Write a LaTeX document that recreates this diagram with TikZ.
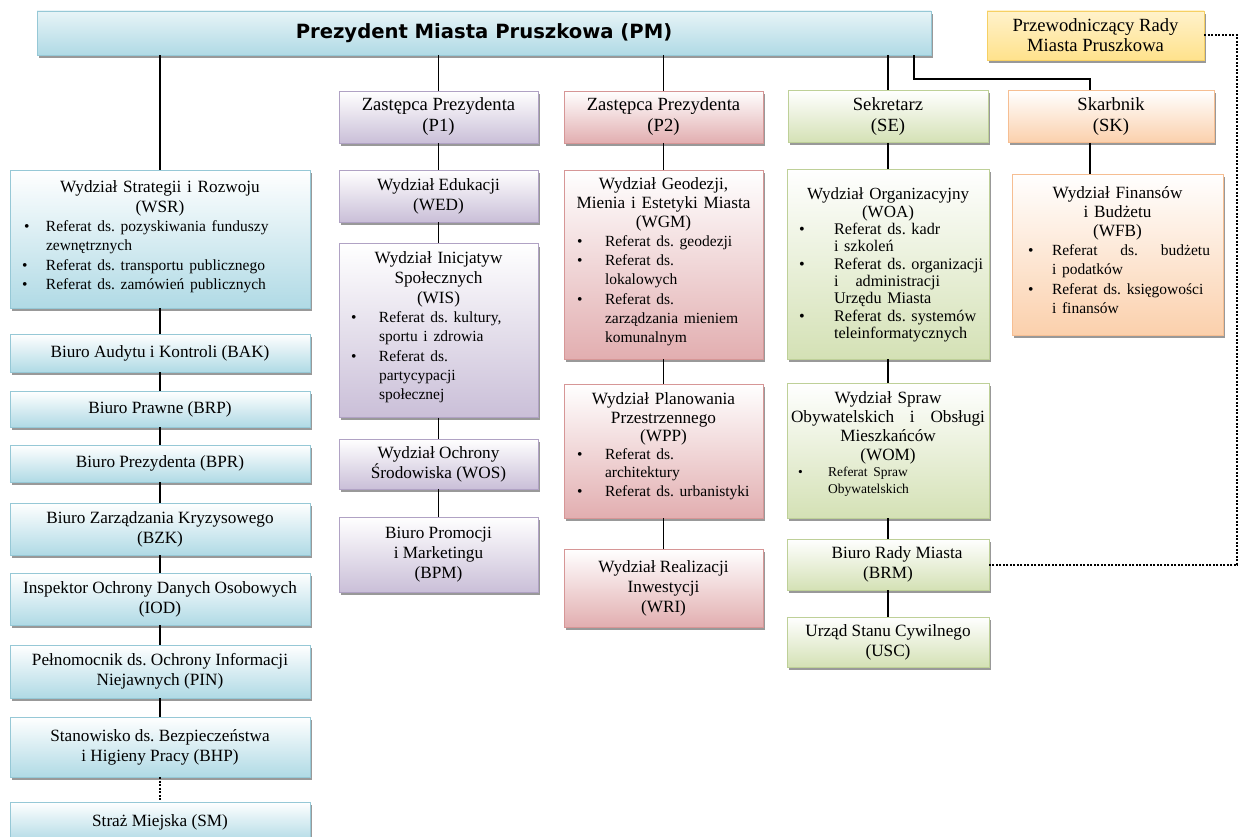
\documentclass[tikz,border=0pt]{standalone}
\usepackage{fontspec}
\setmainfont{Liberation Serif}
\newfontfamily\titlefont{DejaVu Sans}
\usetikzlibrary{shadows}
\setlength{\parindent}{0pt}
\frenchspacing
\definecolor{bluef}{RGB}{176,218,229}
\definecolor{blueb}{RGB}{150,200,214}
\definecolor{purf}{RGB}{202,191,216}
\definecolor{purb}{RGB}{176,162,196}
\definecolor{redf}{RGB}{226,174,176}
\definecolor{redb}{RGB}{214,150,150}
\definecolor{grnf}{RGB}{212,225,181}
\definecolor{grnb}{RGB}{190,208,152}
\definecolor{orf}{RGB}{251,208,172}
\definecolor{orb}{RGB}{246,190,146}
\definecolor{yelf}{RGB}{255,226,140}
\definecolor{yelb}{RGB}{246,208,100}
\newcommand{\fb}{\fontsize{17.2}{20}\selectfont}
\newcommand{\fh}{\fontsize{18.6}{21}\selectfont}
\newcommand{\bfs}{\fontsize{15.5}{19}\selectfont}
\newcommand{\hd}[1]{\par{\centering #1\par}}
\newcommand{\bit}[3]{\par\noindent\hspace*{#1}\makebox[\dimexpr#2-#1\relax][l]{\textbullet}\parbox[t]{\dimexpr\hsize-#2-1pt\relax}{\raggedright\strut #3\strut}\par}
\newcommand{\pad}[1]{\par\vspace*{#1}\hrule height 0pt width 0pt}
\begin{document}
\begin{tikzpicture}[x=1pt,y=-1pt,
  box/.style={rectangle, inner sep=0pt, line width=0.8pt,
    drop shadow={shadow xshift=2pt, shadow yshift=-3pt, opacity=0.4, fill=black}},
  bluebox/.style={box, draw=blueb, top color=white, bottom color=bluef},
  pmbox/.style={box, draw=blueb, top color=bluef!30!white, bottom color=bluef},
  purbox/.style={box, draw=purb, top color=white, bottom color=purf},
  redbox/.style={box, draw=redb, top color=white, bottom color=redf},
  grnbox/.style={box, draw=grnb, top color=white, bottom color=grnf},
  orbox/.style={box, draw=orb, top color=white, bottom color=orf},
  yelbox/.style={box, draw=yelb, top color=yelf!45!white, bottom color=yelf},
  lbox/.style={bluebox, minimum width=300pt, align=center, font=\fb},
  cbox/.style={minimum width=199pt, align=center, font=\fb},
  hbox/.style={minimum height=52pt, align=center, font=\fh},
  conn/.style={line width=1.9pt, black},
  dotconn/.style={line width=2pt, black, dash pattern=on 2pt off 1.5pt}]
\useasboundingbox (0,0) rectangle (1241,837);
\fill[white] (0,0) rectangle (1241,837);
\clip (0,0) rectangle (1241,837);

% top level
\node[pmbox, minimum width=894pt, minimum height=44pt, font=\titlefont\bfseries\fontsize{19.6}{22}\selectfont] (pm) at (484,33) {Prezydent Miasta Pruszkowa (PM)};
\node[yelbox, minimum width=217pt, minimum height=49pt, align=center, font=\fontsize{18.6}{20}\selectfont] (prz) at (1095.5,35.5) {Przewodniczący Rady\\Miasta Pruszkowa};

% second level
\node[purbox, hbox, minimum width=199pt] (p1) at (438.5,117) {Zastępca Prezydenta\\(P1)};
\node[redbox, hbox, minimum width=199pt] (p2) at (663.5,117) {Zastępca Prezydenta\\(P2)};
\node[grnbox, hbox, minimum width=200pt] (se) at (888,116.5) {Sekretarz\\(SE)};
\node[orbox, hbox, minimum width=206pt] (sk) at (1111,116.5) {Skarbnik\\(SK)};

% left column
\node[bluebox, minimum width=300pt, minimum height=138pt, text width=300pt, font=\fontsize{17.2}{20}\selectfont] (wsr) at (160,239) {%
\hd{Wydział Strategii i Rozwoju\\(WSR)}
{\bfs
\bit{14pt}{36pt}{Referat ds. pozyskiwania funduszy\\zewnętrznych}
\bit{12pt}{36pt}{Referat ds. transportu publicznego}
\bit{12pt}{36pt}{Referat ds. zamówień publicznych}}\pad{10pt}};
\node[lbox, minimum height=38pt] (bak) at (160,353) {Biuro Audytu i Kontroli (BAK)};
\node[lbox, minimum height=36pt] (brp) at (160,409) {Biuro Prawne (BRP)};
\node[lbox, minimum height=37pt] (bpr) at (160,463.5) {Biuro Prezydenta (BPR)};
\node[lbox, minimum height=52pt] (bzk) at (160,529) {Biuro Zarządzania Kryzysowego\\(BZK)};
\node[lbox, minimum height=52pt] (iod) at (160,599) {Inspektor Ochrony Danych Osobowych\\(IOD)};
\node[lbox, minimum height=53pt] (pin) at (160,671.5) {Pełnomocnik ds. Ochrony Informacji\\Niejawnych (PIN)};
\node[lbox, minimum height=60pt] (bhp) at (160,747) {Stanowisko ds. Bezpieczeństwa\\i Higieny Pracy (BHP)};
\node[lbox, minimum height=40pt] (sm) at (160,822) {Straż Miejska (SM)};

% P1 column
\node[purbox, cbox, minimum height=52pt] (wed) at (438.5,196) {Wydział Edukacji\\(WED)};
\node[purbox, minimum width=199pt, minimum height=169pt, text width=199pt, font=\fontsize{17.2}{20}\selectfont] (wis) at (438.5,330.5) {%
\hd{Wydział Inicjatyw\\Społecznych\\(WIS)}
{\bfs
\bit{12pt}{40pt}{Referat ds. kultury,\\sportu i zdrowia}
\bit{12pt}{40pt}{Referat ds.\\partycypacji\\społecznej}}\pad{12pt}};
\node[purbox, cbox, minimum height=50pt] (wos) at (438.5,464) {Wydział Ochrony\\Środowiska (WOS)};
\node[purbox, cbox, minimum height=75pt] (bpm) at (438.5,554.5) {Biuro Promocji\\i Marketingu\\(BPM)};

% P2 column
\node[redbox, minimum width=199pt, minimum height=189pt, text width=199pt, font=\fontsize{17.2}{19}\selectfont] (wgm) at (663.5,264.5) {%
\hd{Wydział Geodezji,\\Mienia i Estetyki Miasta\\(WGM)}
{\bfs
\bit{13pt}{41pt}{Referat ds. geodezji}
\bit{13pt}{41pt}{Referat ds.\\lokalowych}
\bit{13pt}{41pt}{Referat ds.\\zarządzania mieniem\\komunalnym}}\pad{10pt}};
\node[redbox, minimum width=199pt, minimum height=134pt, text width=199pt, font=\fontsize{17.2}{18.5}\selectfont] (wpp) at (663.5,451) {%
\hd{Wydział Planowania\\Przestrzennego\\(WPP)}
{\fontsize{15.5}{18}\selectfont
\bit{13pt}{41pt}{Referat ds.\\architektury}
\bit{13pt}{41pt}{Referat ds. urbanistyki}}\pad{14pt}};
\node[redbox, cbox, minimum height=78pt] (wri) at (663.5,588) {Wydział Realizacji\\Inwestycji\\(WRI)};

% SE column
\node[grnbox, minimum width=202pt, minimum height=190pt, text width=202pt, font=\fontsize{17}{17.5}\selectfont] (woa) at (888,264) {%
\hd{Wydział Organizacyjny\\(WOA)}
{\fontsize{16.2}{17}\selectfont
\bit{12pt}{47pt}{Referat ds. kadr\\i szkoleń}
\bit{12pt}{47pt}{Referat ds. organizacji\\i\ \ \ administracji\\Urzędu Miasta}
\bit{12pt}{47pt}{Referat ds. systemów\\teleinformatycznych}}\pad{2pt}};
\node[grnbox, minimum width=202pt, minimum height=135pt, text width=202pt, font=\fontsize{17.2}{18.8}\selectfont] (wom) at (888,450.5) {%
\hd{Wydział Spraw\\\makebox[194pt][l]{Obywatelskich\hfill i\hfill Obsługi}\\Mieszkańców\\(WOM)}
{\fontsize{13.5}{16.5}\selectfont\bit{11pt}{41pt}{Referat Spraw\\Obywatelskich}}\pad{18pt}};
\node[grnbox, minimum width=202pt, minimum height=51pt, align=center, font=\fb] (brm) at (888,564.5) {\hspace*{18pt}Biuro Rady Miasta\\(BRM)};
\node[grnbox, minimum width=202pt, minimum height=50pt, align=center, font=\fb] (usc) at (888,642) {Urząd Stanu Cywilnego\\(USC)};

% SK column
\node[orbox, minimum width=211pt, minimum height=161pt, text width=211pt, font=\fontsize{17.2}{19}\selectfont] (wfb) at (1117.5,254.5) {%
\hd{Wydział Finansów\\i Budżetu\\(WFB)}
{\bfs
\bit{16pt}{40pt}{\makebox[158pt][l]{Referat\hfill ds.\hfill budżetu}\\i podatków}
\bit{16pt}{40pt}{Referat ds. księgowości\\i finansów}}\pad{10pt}};

% helper coordinates for the Skarbnik branch
\coordinate (skx) at (914,0);
\coordinate (skin) at (1090,0);

% connectors
\draw[conn] (pm.south -| wsr.north) -- (wsr.north);
\draw[conn] (wsr.south) -- (bak.north);
\draw[conn] (bak.south) -- (brp.north);
\draw[conn] (brp.south) -- (bpr.north);
\draw[conn] (bpr.south) -- (bzk.north);
\draw[conn] (bzk.south) -- (iod.north);
\draw[conn] (iod.south) -- (pin.north);
\draw[conn] (pin.south) -- (bhp.north);
\draw[dotconn] (bhp.south) -- (sm.north);

\draw[conn] (pm.south -| p1.north) -- (p1.north);
\draw[conn] (p1.south) -- (wed.north);
\draw[conn] (wed.south) -- (wis.north);
\draw[conn] (wis.south) -- (wos.north);
\draw[conn] (wos.south) -- (bpm.north);

\draw[conn] (pm.south -| p2.north) -- (p2.north);
\draw[conn] (p2.south) -- (wgm.north);
\draw[conn] (wgm.south) -- (wpp.north);
\draw[conn] (wpp.south) -- (wri.north);

\draw[conn] (pm.south -| se.north) -- (se.north);
\draw[conn] (se.south) -- (woa.north);
\draw[conn] (woa.south) -- (wom.north);
\draw[conn] (wom.south) -- (brm.north);
\draw[conn] (brm.south) -- (usc.north);

\draw[conn] (pm.south -| skx) -- ++(0,24) -| (sk.north -| skin);
\draw[conn] (sk.south -| skin) -- (wfb.north -| skin);

\draw[dotconn] (prz.east) -- ++(33,0) |- (brm.east);
\end{tikzpicture}
\end{document}
